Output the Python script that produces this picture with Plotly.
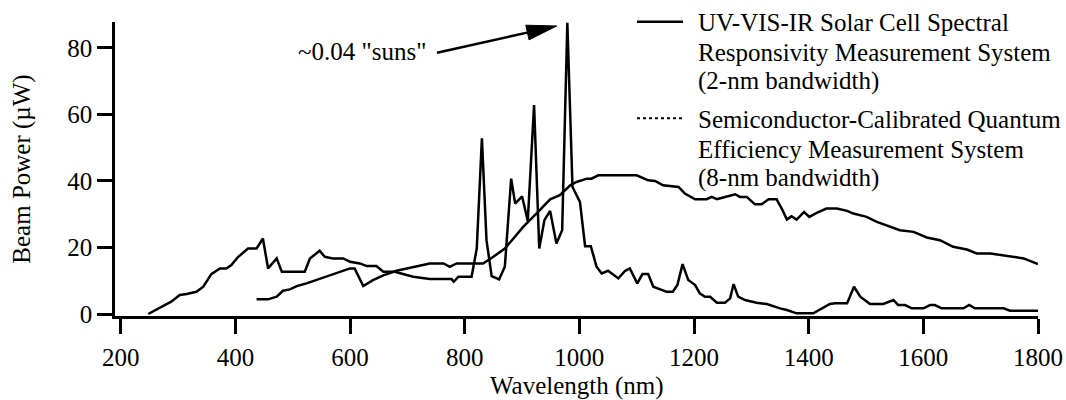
import plotly.graph_objects as go

# ---- data ----
wl_2nm = [248, 288, 303, 315, 332, 344, 358, 373, 384, 393, 405, 422, 437, 448, 457, 472, 481,
          521, 530, 547, 556, 570, 588, 600, 617, 629, 646, 658, 678, 693, 710, 739, 777, 781,
          789, 812, 821, 830, 838, 847, 860, 870, 881, 888, 900, 910, 921, 930, 939, 949, 960,
          970, 979, 988, 1001, 1010, 1020, 1030, 1039, 1050, 1068, 1080, 1088, 1101, 1110, 1120,
          1129, 1141, 1152, 1163, 1171, 1180, 1190, 1202, 1210, 1219, 1228, 1240, 1254, 1263,
          1269, 1277, 1289, 1309, 1327, 1350, 1362, 1379, 1408, 1437, 1446, 1467, 1479, 1490,
          1507, 1530, 1548, 1556, 1568, 1580, 1600, 1612, 1620, 1632, 1670, 1680, 1690, 1740,
          1751, 1800]
pw_2nm = [0, 3.7, 5.7, 6, 6.7, 8.2, 12, 13.7, 13.7, 14.7, 17.2, 19.7, 19.7, 22.7, 13.7, 16.7, 12.7,
          12.7, 16.7, 19, 17.2, 16.7, 16.7, 15.7, 15.2, 14.4, 14.4, 12.7, 12.7, 12, 11.2, 10.5, 10.5, 9.7,
          11.2, 11.2, 19.7, 52.8, 22.2, 11.4, 10.4, 14.2, 40.7, 33.2, 35.4, 28, 62.8, 19.7, 28.2, 31, 21.2,
          25.2, 87.6, 38.2, 33.7, 20.4, 20.4, 14.2, 12.2, 13, 10.7, 13, 13.7, 9.2, 12, 12,
          8.2, 7.4, 6.7, 6.7, 8.7, 15, 10.2, 8.7, 6.2, 5.2, 5.2, 3.4, 3.4, 4.7,
          9, 5.2, 4.2, 3.4, 3, 1.7, 1.2, 0.2, 0.2, 3, 3.2, 3.2, 8.2, 5.2,
          3, 3, 4.2, 2.7, 2.7, 1.7, 1.7, 2.7, 2.7, 1.7, 1.7, 2.7, 1.7, 1.7,
          1, 1]

wl_8nm = [437, 457, 472, 483, 495, 507, 524, 541, 559, 582, 600, 608, 623, 640, 658, 681, 710, 739,
          763, 774, 786, 832, 850, 870, 885, 902, 925, 949, 966, 984, 995, 1013, 1021, 1033, 1100,
          1120, 1132, 1146, 1173, 1184, 1202, 1222, 1231, 1240, 1254, 1272, 1280, 1292, 1306, 1318,
          1330, 1344, 1353, 1362, 1370, 1379, 1392, 1401, 1414, 1431, 1449, 1467, 1478, 1501, 1519,
          1536, 1559, 1583, 1606, 1629, 1652, 1676, 1693, 1717, 1735, 1752, 1775, 1800]
pw_8nm = [4.4, 4.4, 5.2, 7, 7.4, 8.4, 9.2, 10.2, 11.2, 12.7, 13.7, 13.7, 8.4, 10.2, 11.6, 13, 14.2, 15.2,
          15.2, 14.2, 15.2, 15.2, 17.2, 19.7, 22.7, 26.2, 30.2, 34.5, 35.7, 38.7, 39.7, 40.7, 40.7, 41.7, 41.7,
          40.2, 40, 38.7, 38.2, 36.2, 34.5, 34.5, 35.2, 34.5, 35.2, 36, 35.2, 35.2, 33, 33,
          34.5, 34.5, 31.7, 28.4, 29.4, 28.4, 30.7, 29.2, 30.4, 31.7, 31.7, 31, 30.2, 29.2, 27.7,
          26.7, 25.2, 24.7, 23, 22.2, 20.2, 19.4, 18.2, 18.2, 17.7, 17.2, 16.7, 15]

x_ticks = [200, 400, 600, 800, 1000, 1200, 1400, 1600, 1800]
y_ticks = [0, 20, 40, 60, 80]

x_title = "Wavelength (nm)"
y_title = "Beam Power (µW)"
legend_1 = ["UV-VIS-IR Solar Cell Spectral", "Responsivity Measurement System", "(2-nm bandwidth)"]
legend_2 = ["Semiconductor-Calibrated Quantum", "Efficiency Measurement System", "(8-nm bandwidth)"]
note_text = '~0.04 "suns"'

# ---- layout geometry ----
W, H = 1066, 400
L, R, T, B = 115, 28, 22, 84
FONT = "Liberation Serif, Times New Roman, serif"
FS = 25


def px(x):
    return (x - L) / (W - L - R)


def py(y):
    return (H - B - y) / (H - T - B)


fig = go.Figure()
fig.add_trace(go.Scatter(x=wl_2nm, y=pw_2nm, mode="lines",
                         line=dict(color="black", width=2.5), showlegend=False))
fig.add_trace(go.Scatter(x=wl_8nm, y=pw_8nm, mode="lines",
                         line=dict(color="black", width=2.5), showlegend=False))

shapes = []
annotations = []

# legend samples
shapes.append(dict(type="line", xref="paper", yref="paper", x0=px(637), x1=px(683),
                   y0=py(21.7), y1=py(21.7), line=dict(color="black", width=2.5)))
shapes.append(dict(type="line", xref="paper", yref="paper", x0=px(637), x1=px(683),
                   y0=py(118.3), y1=py(118.3), line=dict(color="black", width=2, dash="dot")))
for txt, yy in zip(legend_1 + legend_2, [22.5, 52.5, 81, 119, 149, 178]):
    annotations.append(dict(text=txt, xref="paper", yref="paper", x=px(696), y=py(yy),
                            xanchor="left", yanchor="middle", showarrow=False,
                            font=dict(family=FONT, size=FS, color="black")))

# x axis title as annotation (sits low, near the figure edge)
annotations.append(dict(text=x_title, xref="paper", yref="paper", x=0.5, y=py(385.5),
                        xanchor="center", yanchor="middle", showarrow=False,
                        font=dict(family=FONT, size=FS, color="black")))

# annotation text + arrow
annotations.append(dict(text=note_text, xref="paper", yref="paper", x=px(361.5), y=py(51),
                        xanchor="center", yanchor="middle", showarrow=False,
                        font=dict(family=FONT, size=FS, color="black")))
tail = (437.0, 52.7)
tip = (556.7, 26.0)
dx, dy = tip[0] - tail[0], tip[1] - tail[1]
ln = (dx * dx + dy * dy) ** 0.5
ux, uy = dx / ln, dy / ln
nx, ny = -uy, ux
hl, hw = 30.0, 7.5
bx, by = tip[0] - hl * ux, tip[1] - hl * uy
shapes.append(dict(type="line", xref="paper", yref="paper", x0=px(tail[0]), y0=py(tail[1]),
                   x1=px(bx + 2 * ux), y1=py(by + 2 * uy), line=dict(color="black", width=2.5)))
p1 = (bx + hw * nx, by + hw * ny)
p2 = (bx - hw * nx, by - hw * ny)
path = "M {:.5f},{:.5f} L {:.5f},{:.5f} L {:.5f},{:.5f} Z".format(
    px(tip[0]), py(tip[1]), px(p1[0]), py(p1[1]), px(p2[0]), py(p2[1]))
shapes.append(dict(type="path", xref="paper", yref="paper", path=path,
                   fillcolor="black", line=dict(color="black", width=1)))

axis_common = dict(showgrid=False, zeroline=False, showline=True, linecolor="black", linewidth=2.5,
                   ticks="outside", ticklen=15, tickwidth=2.5, tickcolor="black", automargin=False,
                   tickfont=dict(family=FONT, size=FS, color="black"))

fig.update_layout(
    width=W, height=H,
    margin=dict(l=L, r=R, t=T, b=B),
    paper_bgcolor="white", plot_bgcolor="white",
    font=dict(family=FONT, size=FS, color="black"),
    xaxis=dict(range=[190, 1800], tickvals=x_ticks, ticktext=[str(v) for v in x_ticks],
               ticklabelstandoff=2, **axis_common),
    yaxis=dict(range=[-0.6, 87.8], tickvals=y_ticks, ticktext=[str(v) for v in y_ticks],
               title=dict(text=y_title, font=dict(family=FONT, size=FS), standoff=30),
               **axis_common),
    shapes=shapes,
    annotations=annotations,
    showlegend=False,
)

fig.write_html("out.html")
